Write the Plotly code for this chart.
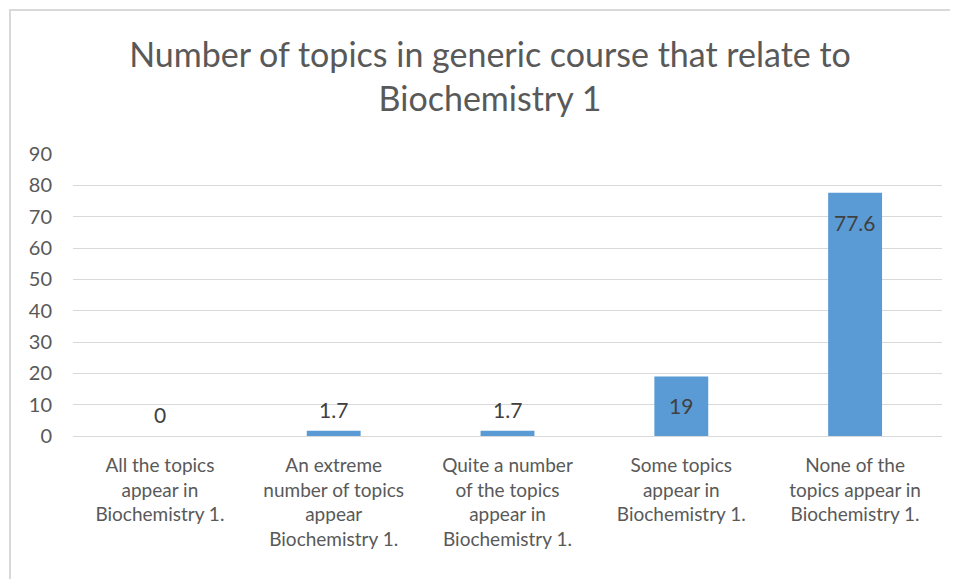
import plotly.graph_objects as go

categories = [
    "All the topics<br>appear in<br>Biochemistry 1.",
    "An extreme<br>number of topics<br>appear<br>Biochemistry 1.",
    "Quite a number<br>of the topics<br>appear in<br>Biochemistry 1.",
    "Some topics<br>appear in<br>Biochemistry 1.",
    "None of the<br>topics appear in<br>Biochemistry 1.",
]
values = [0, 1.7, 1.7, 19, 77.6]
value_labels = ["0", "1.7", "1.7", "19", "77.6"]
inside = [False, False, False, True, True]
y_ticks = [0, 10, 20, 30, 40, 50, 60, 70, 80, 90]

W, H = 950, 571
L, R, T, B = 65, 16, 146, 143
PW, PH = W - L - R, H - T - B

fig = go.Figure(go.Bar(
    x=categories, y=values, marker=dict(color="#5B9BD5", line=dict(width=0)),
    width=0.31, hoverinfo="skip",
))

annotations = []
for c, v, t, ins in zip(categories, values, value_labels, inside):
    annotations.append(dict(
        x=c, y=v, text=t, showarrow=False,
        xref="x", yref="y",
        yanchor="top" if ins else "bottom",
        yshift=-15 if ins else 7,
        font=dict(family="Lato, sans-serif", size=21, color="#404040"),
    ))

fig.update_layout(
    width=W, height=H,
    margin=dict(l=L, r=R, t=T, b=B),
    paper_bgcolor="white", plot_bgcolor="white",
    showlegend=False,
    title=dict(
        text="Number of topics in generic course that relate to<br>Biochemistry 1",
        x=482 / W, xanchor="center", xref="container",
        y=1 - 59 / H, yanchor="top", yref="container",
        font=dict(family="Lato, sans-serif", size=34, color="#595959"),
    ),
    xaxis=dict(
        showgrid=False, showline=False, ticks="", ticklabelstandoff=16,
        tickfont=dict(family="Lato, sans-serif", size=19, color="#595959"),
        fixedrange=True,
    ),
    yaxis=dict(
        range=[0, 90], tickvals=y_ticks, showgrid=True, gridcolor="#D9D9D9",
        gridwidth=1, zeroline=True, zerolinecolor="#D9D9D9", zerolinewidth=1,
        showline=False, ticks="", ticklabelstandoff=20,
        tickfont=dict(family="Lato, sans-serif", size=20, color="#595959"),
        fixedrange=True,
    ),
    annotations=annotations,
    shapes=[dict(
        type="rect", xref="paper", yref="paper",
        x0=(2 - L) / PW, x1=1.2, y0=-1.0, y1=(T + PH - 2) / PH,
        line=dict(color="#D9D9D9", width=2), layer="below",
    )],
)

fig.write_html("out.html")
